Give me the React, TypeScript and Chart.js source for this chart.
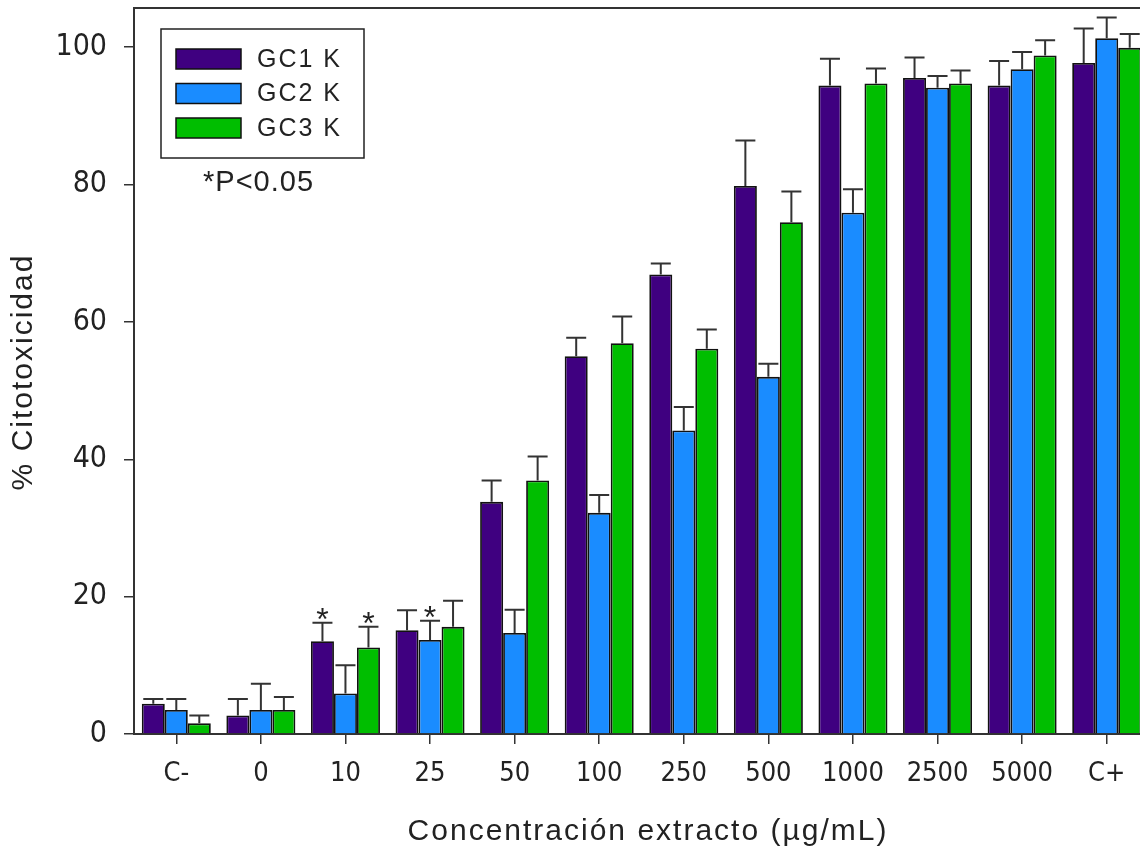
import React, { useEffect, useRef } from "react";
import { Chart, registerables } from "chart.js";

Chart.register(...registerables);

// ---------- data ----------
const categories = ["C-", "0", "10", "25", "50", "100", "250", "500", "1000", "2500", "5000", "C+"];
const seriesNames = ["GC1 K", "GC2 K", "GC3 K"];

const gc1Values = [4.4, 2.7, 13.5, 15.1, 33.8, 55.0, 66.9, 79.8, 94.4, 95.5, 94.4, 97.7];
const gc1Errors = [0.7, 2.4, 2.7, 2.9, 3.1, 2.7, 1.6, 6.6, 3.9, 3.0, 3.6, 5.0];

const gc2Values = [3.5, 3.5, 5.9, 13.7, 14.7, 32.2, 44.2, 52.0, 75.9, 94.1, 96.8, 101.3];
const gc2Errors = [1.6, 3.8, 4.1, 2.8, 3.4, 2.6, 3.4, 1.9, 3.4, 1.7, 2.5, 3.0];

const gc3Values = [1.55, 3.5, 12.6, 15.6, 36.9, 56.9, 56.1, 74.5, 94.7, 94.7, 98.8, 99.9];
const gc3Errors = [1.15, 1.9, 3.0, 3.8, 3.5, 3.9, 2.8, 4.5, 2.2, 1.9, 2.2, 2.0];

const yTickValues = [0, 20, 40, 60, 80, 100];
const yMax = 105.7;

// significance marks: series index + category
const significanceMarks = [
  { series: 0, category: "10" },
  { series: 2, category: "10" },
  { series: 1, category: "25" },
];
const significanceNote = "*P<0.05";

const xTitle = "Concentración extracto (µg/mL)";
const yTitle = "% Citotoxicidad";

// ---------- styles ----------
const seriesColors = ["#3f0080", "#1a8cff", "#00be00"];
const inkColor = "#222222";
const axisColor = "#333333";
const SANS = '"Liberation Sans", Arial, sans-serif';
const NARROW = '"Liberation Sans Narrow", "Arial Narrow", "DejaVu Sans Condensed", "Liberation Sans", sans-serif';

const valueSets = [gc1Values, gc2Values, gc3Values];
const errorSets = [gc1Errors, gc2Errors, gc3Errors];

const overlayPlugin = {
  id: "overlay",
  afterDatasetsDraw(chart: any) {
    const ctx = chart.ctx;
    const yScale = chart.scales.y;
    ctx.save();
    // error bars (upper only)
    ctx.strokeStyle = axisColor;
    ctx.lineWidth = 2;
    chart.data.datasets.forEach((ds: any, di: number) => {
      const meta = chart.getDatasetMeta(di);
      meta.data.forEach((el: any, i: number) => {
        const v = ds.data[i];
        const top = yScale.getPixelForValue(v + errorSets[di][i]);
        ctx.beginPath();
        ctx.moveTo(el.x, el.y);
        ctx.lineTo(el.x, top);
        ctx.moveTo(el.x - 10, top);
        ctx.lineTo(el.x + 10, top);
        ctx.stroke();
      });
    });
    // significance stars
    ctx.fillStyle = inkColor;
    ctx.font = `32px ${SANS}`;
    ctx.textAlign = "center";
    ctx.textBaseline = "alphabetic";
    significanceMarks.forEach((m) => {
      const i = categories.indexOf(m.category);
      const el = chart.getDatasetMeta(m.series).data[i];
      const top = yScale.getPixelForValue(valueSets[m.series][i] + errorSets[m.series][i]);
      ctx.fillText("*", el.x, top + 7);
    });
    ctx.restore();
  },
  afterDraw(chart: any) {
    const ctx = chart.ctx;
    const area = chart.chartArea;
    ctx.save();
    // frame top + right
    ctx.strokeStyle = axisColor;
    ctx.lineWidth = 2;
    ctx.beginPath();
    ctx.moveTo(area.left, area.top);
    ctx.lineTo(area.right, area.top);
    ctx.lineTo(area.right, area.bottom);
    ctx.stroke();

    // legend
    ctx.lineWidth = 1.5;
    ctx.strokeStyle = inkColor;
    ctx.strokeRect(161, 29, 203, 129);
    ctx.font = `25px ${SANS}`;
    (ctx as any).letterSpacing = "2px";
    ctx.textAlign = "left";
    ctx.textBaseline = "middle";
    chart.data.datasets.forEach((ds: any, di: number) => {
      const cy = 59 + di * 34.5;
      ctx.fillStyle = ds.backgroundColor;
      ctx.fillRect(176, cy - 10, 65, 20);
      ctx.strokeStyle = "#111";
      ctx.lineWidth = 1.5;
      ctx.strokeRect(176, cy - 10, 65, 20);
      ctx.fillStyle = inkColor;
      ctx.fillText(ds.label, 257, cy + 1);
    });

    // significance note
    ctx.font = `29px ${SANS}`;
    (ctx as any).letterSpacing = "1px";
    ctx.fillText(significanceNote, 203, 183);

    // axis titles
    ctx.font = `30px ${SANS}`;
    (ctx as any).letterSpacing = "2px";
    ctx.textAlign = "center";
    ctx.fillText(xTitle, 648, 832);
    ctx.translate(24, 372);
    ctx.rotate(-Math.PI / 2);
    ctx.fillText(yTitle, 0, 0);
    ctx.restore();
    (ctx as any).letterSpacing = "0px";
  },
};

export default function App() {
  const canvasRef = useRef<HTMLCanvasElement | null>(null);

  useEffect(() => {
    document.body.style.margin = "0";
    const canvas = canvasRef.current;
    if (!canvas) return;
    const chart = new Chart(canvas, {
      type: "bar",
      data: {
        labels: categories,
        datasets: seriesNames.map((name, i) => ({
          label: name,
          data: valueSets[i],
          backgroundColor: seriesColors[i],
          borderColor: "#111111",
          borderWidth: 1.8,
          categoryPercentage: 0.816,
          barPercentage: 1,
        })),
      },
      options: {
        responsive: false,
        animation: false,
        devicePixelRatio: 1,
        layout: { padding: { top: 8, right: 1, left: 0, bottom: 0 } },
        plugins: {
          legend: { display: false },
          tooltip: { enabled: false },
          title: { display: false },
        },
        scales: {
          x: {
            type: "category",
            offset: true,
            afterFit: (s: any) => {
              s.height = 121;
              s.paddingLeft = 0;
              s.paddingRight = 0;
            },
            grid: {
              offset: false,
              drawOnChartArea: false,
              drawTicks: true,
              tickLength: 10,
              color: axisColor,
              lineWidth: 1.5,
            },
            border: { display: true, color: axisColor, width: 2 },
            ticks: {
              color: inkColor,
              padding: 14,
              maxRotation: 0,
              autoSkip: false,
              font: { family: NARROW, size: 27 },
            },
          },
          y: {
            min: 0,
            max: yMax,
            afterFit: (s: any) => {
              s.width = 134;
              s.paddingTop = 0;
              s.paddingBottom = 0;
            },
            afterBuildTicks: (s: any) => {
              s.ticks = yTickValues.map((v) => ({ value: v }));
            },
            grid: {
              drawOnChartArea: false,
              drawTicks: true,
              tickLength: 10,
              color: axisColor,
              lineWidth: 1.5,
            },
            border: { display: true, color: axisColor, width: 2 },
            ticks: {
              color: inkColor,
              padding: 17,
              font: { family: NARROW, size: 30 },
            },
          },
        },
      },
      plugins: [overlayPlugin],
    });
    return () => chart.destroy();
  }, []);

  return (
    <div style={{ position: "absolute", left: 0, top: 0, width: 1140, height: 855, overflow: "hidden", background: "#fff" }}>
      <canvas ref={canvasRef} width={1150} height={855} style={{ display: "block" }} />
    </div>
  );
}
